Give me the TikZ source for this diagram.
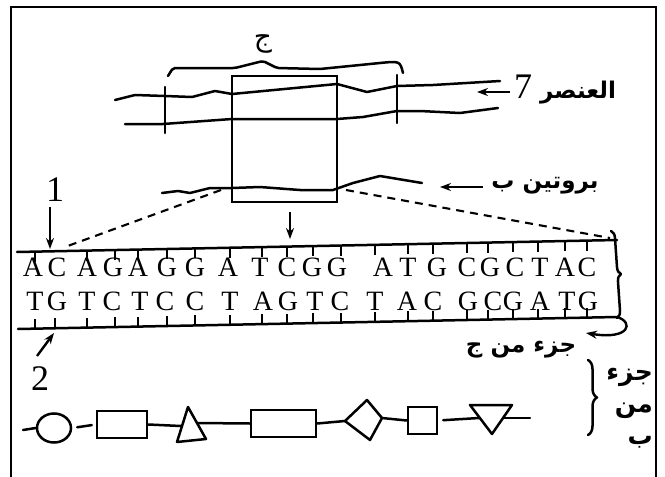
\documentclass[tikz,border=0pt]{standalone}
\usepackage{fontspec}
\setmainfont{Liberation Serif}
\newfontfamily\arabicfont[Script=Arabic]{DejaVu Sans}
\TeXXeTstate=1
\usetikzlibrary{arrows.meta,shapes.geometric,decorations.pathreplacing}

\begin{document}
\begin{tikzpicture}[x=1pt,y=-1pt,
  ink/.style={line width=2.5pt, line join=round, line cap=round},
  frameline/.style={line width=2.8pt},
  tickline/.style={line width=2pt},
  tip/.style={line width=2.4pt, -{Stealth[length=11pt,width=8pt]}},
  dashline/.style={line width=2.1pt, dash pattern=on 8pt off 6pt},
  base/.style={font=\fontsize{28}{28}\selectfont, inner sep=0pt, anchor=base},
  digit/.style={font=\fontsize{36}{36}\selectfont, inner sep=0pt},
  arlabel/.style={font=\arabicfont\bfseries\fontsize{23}{31}\selectfont, inner sep=0pt},
  shapebox/.style={draw, rectangle, line width=2.5pt, inner sep=0pt},
]
\useasboundingbox (0,0) rectangle (665,477);

% outer frame, open at the bottom
\draw[frameline] (11,477) -- (11,7) -- (656,7) -- (656,477);

% ---------- chromosome with the marked region ----------
\draw[ink] (115,100) -- (135,95) -- (165,96) -- (192,97) -- (215,91) -- (232,94)
  -- (337,84) -- (367,92) -- (397,86) -- (433,85) -- (500,81);
\draw[ink] (125,124) -- (163,124) -- (232,119) -- (337,119) -- (363,117)
  -- (397,111) -- (420,111) -- (460,113) -- (498,108);
\draw[ink] (165,87) -- (165,133);
\draw[ink] (397,75) -- (397,123);

% brace over the gene
\draw[ink, rounded corners=2pt] (168,76) -- (173,68) -- (235,68) -- (263,61) -- (277,68)
  -- (320,69) -- (380,63);
\draw[ink] (380,63) .. controls (400,61) .. (403,73);
\node[font=\arabicfont\fontsize{28}{28}\selectfont, inner sep=0pt] (jim) at (263,44) {\beginR ج\endR};

% enlargement window
\node[draw, line width=2.5pt, minimum width=105pt, minimum height=126pt, inner sep=0pt] (win) at (284.5,139) {};

% protein strand
\draw[ink] (162,193) -- (178,191) -- (190,193) -- (210,188) -- (232,188) -- (260,187)
  -- (300,190) -- (333,190) -- (353,183) -- (380,176) -- (422,183);

% labels on the right
\node[digit] (seven) at (523,87) {7};
\node[arlabel] (elem) at (578,93) {\beginR العنصر\endR};
\coordinate (a7s) at (510,92);
\coordinate (a7e) at (477,92);
\draw[tip] (a7s) -- (a7e);

\node[arlabel] (prot) at (545,186) {\beginR بروتين ب\endR};
\coordinate (aps) at (483,187);
\coordinate (ape) at (440,187);
\draw[tip] (aps) -- (ape);

% zoom lines to the DNA segment
\coordinate (zl1) at (221,190);
\coordinate (zl2) at (65,247);
\coordinate (zr1) at (346,190);
\coordinate (zr2) at (610,238);
\draw[dashline] (zl1) -- (zl2);
\draw[dashline] (zr1) -- (zr2);

\coordinate (wa1) at (290,212);
\coordinate (wa2) at (290,239);
\draw[tip] (wa1) -- (wa2);

% ---------- DNA double strand ----------
\coordinate (tl) at (17,252);
\coordinate (tr) at (617,240);
\coordinate (bl) at (18,329);
\coordinate (br) at (617,317);
\draw[ink] (tl) -- (tr);
\draw[ink] (bl) -- (br);

\foreach \x in {35,87,115,138,167,195,230,262,287,313,341,375,408,433,467,488,513,538,565,587}
  \draw[tickline] (\x,{252-0.02*(\x-17)}) -- ++(0,10);
\foreach \x in {35,55,87,115,138,167,195,230,262,287,313,341,375,408,433,467,488,513,538,565,587}
  \draw[tickline] (\x,{329-0.02*(\x-18)}) -- ++(0,-10);

\foreach \x/\c [count=\i] in {33/A,57/C,87/A,113/G,138/A,167/G,195/G,228/A,260/T,287/C,312/G,
    337/G,383/A,408/T,437/G,467/C,490/G,515/C,540/T,565/A,587/C}
  \node[base] (up\i) at (\x,276) {\c};
\foreach \x/\c [count=\i] in {35/T,57/G,87/T,112/C,140/T,165/C,195/C,230/T,263/A,288/G,315/T,
    340/C,375/T,407/A,433/C,468/G,493/C,513/G,540/A,567/T,588/G}
  \node[base] (dn\i) at (\x,310) {\c};

% markers 1 and 2
\node[digit] (one) at (55,190) {1};
\coordinate (a1s) at (50,207);
\coordinate (a1e) at (50,249);
\draw[tip] (a1s) -- (a1e);

\node[digit] (two) at (40,379) {2};
\coordinate (a2s) at (37,356);
\coordinate (a2e) at (54,333);
\draw[tip] (a2s) -- (a2e);

% brace and hook arrow at the right end
\draw[ink, decorate, decoration={brace, amplitude=7pt}] (611,231) -- (617,318);
\draw[tip] (br) .. controls (634,322) and (630,340) .. (586,333);
\node[arlabel] (partj) at (521,350) {\beginR جزء من ج\endR};

% ---------- chain of amino acids ----------
\coordinate (s0) at (23,430);
\node[draw, ellipse, line width=2.5pt, minimum width=34pt, minimum height=29pt, inner sep=0pt] (circ) at (54,428) {};
\node[shapebox, minimum width=50pt, minimum height=27pt] (r1) at (122,424.5) {};
\draw[ink] (188,407) -- (206,439) -- (177,442) -- cycle;
\coordinate (t1a) at (181,426);
\coordinate (t1b) at (197,423);
\node[shapebox, minimum width=65pt, minimum height=27pt] (r2) at (283.5,423.5) {};
\draw[ink] (345,421) -- (367,400) -- (382,418) -- (370,440) -- cycle;
\coordinate (dL) at (345,421);
\coordinate (dR) at (382,418);
\node[shapebox, minimum width=29pt, minimum height=27pt] (sq) at (422.5,420.5) {};
\draw[ink] (470,405) -- (512,405) -- (492,434) -- cycle;
\coordinate (vL) at (479,418);
\coordinate (vR) at (504,418);
\coordinate (e1) at (530,418);

\draw[ink] (s0) -- (circ.west);
\draw[ink, shorten <=5pt, shorten >=4pt] (circ.east) -- (r1.west);
\draw[ink] (r1.east) -- (t1a);
\draw[ink] (t1b) -- (r2.west);
\draw[ink] (r2.east) -- (dL);
\draw[ink] (dR) -- (sq.west);
\draw[ink, shorten <=5pt] (sq.east) -- (vL);
\draw[ink] (vR) -- (e1);

\draw[ink, decorate, decoration={brace, amplitude=9pt}] (588,360) -- (588,435);
\node[arlabel, font=\arabicfont\bfseries\fontsize{25}{32}\selectfont, align=right, anchor=north east] (partb) at (653,368)
  {\beginR جزء\endR\\\beginR من\endR\\\beginR ب\endR};
\end{tikzpicture}
\end{document}
